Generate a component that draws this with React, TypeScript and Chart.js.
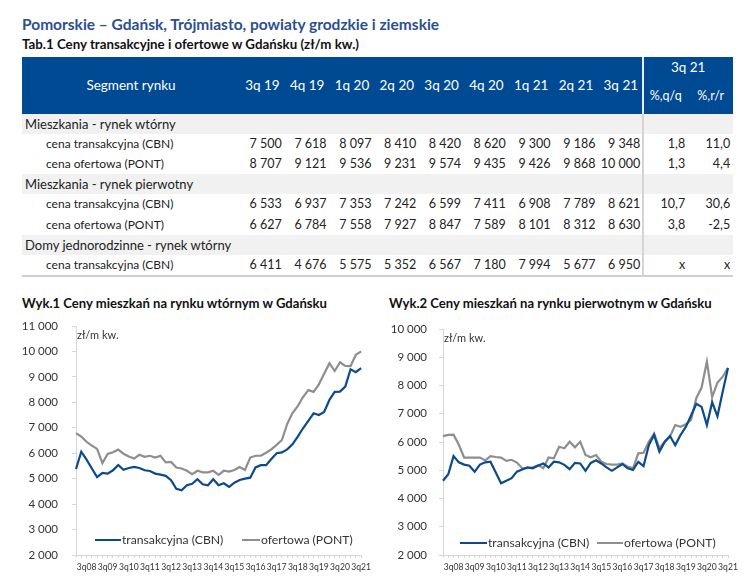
import React, { useEffect, useRef } from "react";
import { Chart, registerables } from "chart.js";
Chart.register(...registerables);

// ---------- DATA ----------
const quarterLabels = [
  "1q08", "2q08", "3q08", "4q08", "1q09", "2q09", "3q09", "4q09", "1q10", "2q10", "3q10", "4q10",
  "1q11", "2q11", "3q11", "4q11", "1q12", "2q12", "3q12", "4q12", "1q13", "2q13", "3q13", "4q13",
  "1q14", "2q14", "3q14", "4q14", "1q15", "2q15", "3q15", "4q15", "1q16", "2q16", "3q16", "4q16",
  "1q17", "2q17", "3q17", "4q17", "1q18", "2q18", "3q18", "4q18", "1q19", "2q19", "3q19", "4q19",
  "1q20", "2q20", "3q20", "4q20", "1q21", "2q21", "3q21",
];

const secondaryCBN = [
  5380, 6060, 5750, 5400, 5060, 5230, 5200, 5330, 5540, 5350, 5420, 5460, 5420, 5330, 5300, 5200,
  5160, 5110, 4940, 4600, 4540, 4740, 4800, 4980, 4780, 4740, 4980, 4740, 4820, 4680, 4840, 4950,
  5000, 5040, 5440, 5530, 5530, 5770, 6000, 6030, 6150, 6350, 6650, 6980, 7270, 7570, 7500, 7618,
  8097, 8410, 8420, 8620, 9300, 9186, 9348,
];
const secondaryPONT = [
  6790, 6650, 6450, 6300, 6170, 5610, 5970, 6040, 6140, 5980, 5870, 5790, 5940, 5860, 5900, 5830,
  5900, 5640, 5660, 5440, 5400, 5310, 5180, 5310, 5250, 5250, 5310, 5150, 5310, 5280, 5340, 5460,
  5340, 5830, 5900, 5900, 6020, 6150, 6330, 6520, 7150, 7580, 7850, 8210, 8480, 8410, 8707, 9121,
  9536, 9231, 9574, 9435, 9426, 9868, 10000,
];
const primaryCBN = [
  4630, 4860, 5500, 5280, 5200, 5160, 4950, 5200, 5280, 5300, 4920, 4540, 4630, 4720, 4950, 5030,
  5100, 5070, 5160, 5240, 5100, 5300, 5280, 5190, 5040, 5260, 5240, 4980, 5260, 5350, 5240, 5100,
  4980, 5100, 5220, 5070, 5010, 5300, 5150, 5890, 6250, 5660, 6000, 6210, 5890, 6250, 6533, 6937,
  7353, 7242, 6599, 7411, 6908, 7789, 8621,
];
const primaryPONT = [
  6210, 6250, 6260, 5900, 5450, 5450, 5450, 5450, 5350, 5500, 5470, 5450, 5330, 5370, 5270, 5070,
  5070, 5100, 5180, 5070, 5450, 5420, 5830, 5780, 6010, 5810, 6010, 5540, 5460, 5540, 5300, 5220,
  5200, 5200, 5240, 5130, 5070, 5600, 5620, 6010, 6300, 5780, 6010, 6190, 6600, 6540, 6627, 6784,
  7558, 7927, 8847, 7589, 8101, 8312, 8630,
];

const chart1Ticks = [2000, 3000, 4000, 5000, 6000, 7000, 8000, 9000, 10000, 11000];
const chart2Ticks = [2000, 3000, 4000, 5000, 6000, 7000, 8000, 9000, 10000];

const tableQuarters = ["3q 19", "4q 19", "1q 20", "2q 20", "3q 20", "4q 20", "1q 21", "2q 21", "3q 21"];
const tabWtornyCBN = [7500, 7618, 8097, 8410, 8420, 8620, 9300, 9186, 9348];
const tabWtornyPONT = [8707, 9121, 9536, 9231, 9574, 9435, 9426, 9868, 10000];
const tabPierwotnyCBN = [6533, 6937, 7353, 7242, 6599, 7411, 6908, 7789, 8621];
const tabPierwotnyPONT = [6627, 6784, 7558, 7927, 8847, 7589, 8101, 8312, 8630];
const tabDomyCBN = [6411, 4676, 5575, 5352, 6567, 7180, 7994, 5677, 6950];
const changeQQ = ["1,8", "1,3", "10,7", "3,8", "x"];
const changeRR = ["11,0", "4,4", "30,6", "-2,5", "x"];

// ---------- STYLE ----------
const BLUE = "#0b4a8c";
const GRAY = "#8e8e8e";
const HEADER_BLUE = "#004a93";
const FONT = "Lato, 'Noto Sans', sans-serif";

const fmt = (n: number) => String(Math.round(n)).replace(/\B(?=(\d{3})+(?!\d))/g, " ");

type ChartProps = {
  left: number; top: number; width: number; height: number;
  ticks: number[]; axisW: number; labelRight: number; padTop: number; padRight: number;
  cbn: number[]; pont: number[];
};

function LineChart(p: ChartProps) {
  const ref = useRef<HTMLCanvasElement | null>(null);
  useEffect(() => {
    if (!ref.current) return;
    const gap = p.axisW - p.labelRight; // distance from axis line to label edge
    const tickPad = 3;
    const tl = gap - tickPad; // invisible part + 4px visible tick mark
    const chart = new Chart(ref.current, {
      type: "line",
      data: {
        labels: quarterLabels,
        datasets: [
          { label: "transakcyjna (CBN)", data: p.cbn, borderColor: BLUE, borderWidth: 2.2, pointRadius: 0, tension: 0, fill: false },
          { label: "ofertowa (PONT)", data: p.pont, borderColor: GRAY, borderWidth: 2.2, pointRadius: 0, tension: 0, fill: false },
        ],
      },
      options: {
        responsive: false,
        animation: false,
        layout: { padding: { left: 0, right: p.padRight, top: p.padTop, bottom: 4 } },
        plugins: { legend: { display: false }, tooltip: { enabled: false } },
        scales: {
          x: {
            type: "category",
            offset: false,
            grid: { drawOnChartArea: false, drawTicks: true, tickLength: 3, color: "#d6d6d6" },
            border: { color: "#d6d6d6" },
            ticks: {
              autoSkip: false, maxRotation: 0, minRotation: 0, padding: 4,
              color: "#333",
              font: { family: FONT, size: 8.6 },
              callback: (_v: any, i: number) => (quarterLabels[i].startsWith("3q") ? quarterLabels[i] : ""),
            },
            afterFit: (s: any) => { s.height = 28; },
          },
          y: {
            min: p.ticks[0], max: p.ticks[p.ticks.length - 1],
            grid: {
              drawOnChartArea: false, drawTicks: true, tickLength: tl, color: "#d6d6d6",
              tickBorderDash: [0, tl - 4, 4, 200],
            },
            border: { color: "#d6d6d6" },
            ticks: {
              autoSkip: false,
              padding: tickPad, color: "#333",
              font: { family: FONT, size: 11.5 },
              callback: (v: any) => fmt(Number(v)),
            },
            afterBuildTicks: (s: any) => { s.ticks = p.ticks.map((v) => ({ value: v })); },
            afterFit: (s: any) => { s.width = p.axisW; },
          },
        },
      },
    });
    return () => chart.destroy();
  }, []);
  return (
    <canvas
      ref={ref}
      width={p.width}
      height={p.height}
      style={{ position: "absolute", left: p.left, top: p.top, width: p.width, height: p.height, zIndex: 1 }}
    />
  );
}

function Legend({ x1, t1, x2, t2, y }: { x1: number; t1: number; x2: number; t2: number; y: number }) {
  const txt: React.CSSProperties = { position: "absolute", top: y - 9, lineHeight: "18px", fontSize: 12.2, color: "#333", whiteSpace: "nowrap", zIndex: 2 };
  return (
    <>
      <div style={{ position: "absolute", left: x1, top: y - 1, width: t1 - x1 - 1, height: 2.4, background: BLUE, zIndex: 2 }} />
      <div style={{ ...txt, left: t1 }}>transakcyjna (CBN)</div>
      <div style={{ position: "absolute", left: x2, top: y - 1, width: t2 - x2 - 1, height: 2.4, background: GRAY, zIndex: 2 }} />
      <div style={{ ...txt, left: t2 }}>ofertowa (PONT)</div>
    </>
  );
}

export default function App() {
  const TL = 22, LABEL_W = 218, NUM_W = 44.8, PCT_W = 45;
  const divX = TL + LABEL_W + 9 * NUM_W;
  const headTop = 57, headBottom = 113.5, rowH = 20.2;

  const rows: { label: string; section?: boolean; values?: number[]; qq?: string; rr?: string }[] = [
    { label: "Mieszkania - rynek wtórny", section: true },
    { label: "cena transakcyjna (CBN)", values: tabWtornyCBN, qq: changeQQ[0], rr: changeRR[0] },
    { label: "cena ofertowa (PONT)", values: tabWtornyPONT, qq: changeQQ[1], rr: changeRR[1] },
    { label: "Mieszkania - rynek pierwotny", section: true },
    { label: "cena transakcyjna (CBN)", values: tabPierwotnyCBN, qq: changeQQ[2], rr: changeRR[2] },
    { label: "cena ofertowa (PONT)", values: tabPierwotnyPONT, qq: changeQQ[3], rr: changeRR[3] },
    { label: "Domy jednorodzinne - rynek wtórny", section: true },
    { label: "cena transakcyjna (CBN)", values: tabDomyCBN, qq: changeQQ[4], rr: changeRR[4] },
  ];
  const bodyBottom = headBottom + rows.length * rowH;

  const abs = (s: React.CSSProperties): React.CSSProperties => ({ position: "absolute", whiteSpace: "nowrap", ...s });

  return (
    <div style={{ position: "fixed", left: 0, top: 0, width: 747, height: 587, background: "#fff", fontFamily: FONT, overflow: "hidden" }}>
      <div style={abs({ left: 22, top: 14, lineHeight: "20px", fontSize: 15.5, fontWeight: 700, color: "#2c4f8e" })}>
        Pomorskie – Gdańsk, Trójmiasto, powiaty grodzkie i ziemskie
      </div>
      <div style={abs({ left: 22, top: 35, lineHeight: "18px", fontSize: 13.3, fontWeight: 700, color: "#111" })}>
        Tab.1 Ceny transakcyjne i ofertowe w Gdańsku (zł/m kw.)
      </div>

      {/* table header */}
      <div style={abs({ left: TL, top: headTop, width: 711, height: headBottom - headTop, background: HEADER_BLUE })} />
      <div style={abs({ left: divX - 1, top: headTop, width: 2, height: headBottom - headTop, background: "#e8eef6" })} />
      <div style={abs({ left: TL, top: headTop, width: LABEL_W, lineHeight: `${headBottom - headTop}px`, textAlign: "center", color: "#fff", fontSize: 13.5 })}>
        Segment rynku
      </div>
      {tableQuarters.map((q, i) => (
        <div key={q + i} style={abs({ left: TL + LABEL_W + i * NUM_W, top: headTop, width: NUM_W, lineHeight: `${headBottom - headTop}px`, textAlign: "center", color: "#fff", fontSize: 13.5 })}>
          {q}
        </div>
      ))}
      <div style={abs({ left: divX, top: headTop + 1, width: 2 * PCT_W, lineHeight: "18px", textAlign: "center", color: "#fff", fontSize: 13.5 })}>
        3q 21
      </div>
      <div style={abs({ left: divX, top: headTop + 30, width: PCT_W, lineHeight: "18px", textAlign: "center", color: "#fff", fontSize: 12.5 })}>%,q/q</div>
      <div style={abs({ left: divX + PCT_W, top: headTop + 30, width: PCT_W, lineHeight: "18px", textAlign: "center", color: "#fff", fontSize: 12.5 })}>%,r/r</div>

      {/* table body */}
      {rows.map((r, ri) => {
        const top = headBottom + ri * rowH;
        return (
          <React.Fragment key={ri}>
            {r.section && <div style={abs({ left: TL, top, width: 711, height: rowH, background: "#f1f1f1" })} />}
            <div style={abs({ left: r.section ? 25 : 46, top, lineHeight: `${rowH}px`, fontSize: r.section ? 13 : 12, color: "#222" })}>{r.label}</div>
            {r.values && r.values.map((v, i) => (
              <div key={i} style={abs({ left: TL + LABEL_W + i * NUM_W, top, width: NUM_W - 3, lineHeight: `${rowH}px`, textAlign: "right", fontSize: 12.5, color: "#222" })}>
                {fmt(v)}
              </div>
            ))}
            {r.qq && <div style={abs({ left: divX, top, width: PCT_W - 3, lineHeight: `${rowH}px`, textAlign: "right", fontSize: 12.5, color: "#222" })}>{r.qq}</div>}
            {r.rr && <div style={abs({ left: divX + PCT_W, top, width: PCT_W - 3, lineHeight: `${rowH}px`, textAlign: "right", fontSize: 12.5, color: "#222" })}>{r.rr}</div>}
          </React.Fragment>
        );
      })}
      <div style={abs({ left: divX - 1, top: headBottom, width: 2, height: bodyBottom - headBottom, background: "#d4d4d4" })} />
      <div style={abs({ left: TL, top: bodyBottom, width: 711, height: 2, background: "#cfcfcf" })} />

      {/* chart titles */}
      <div style={abs({ left: 22, top: 294, lineHeight: "18px", fontSize: 13.1, fontWeight: 700, color: "#111" })}>
        Wyk.1 Ceny mieszkań na rynku wtórnym w Gdańsku
      </div>
      <div style={abs({ left: 389, top: 294, lineHeight: "18px", fontSize: 13.1, fontWeight: 700, color: "#111" })}>
        Wyk.2 Ceny mieszkań na rynku pierwotnym w Gdańsku
      </div>

      <LineChart left={0} top={310} width={375} height={277} ticks={chart1Ticks} axisW={76} labelRight={58} padTop={16} padRight={12} cbn={secondaryCBN} pont={secondaryPONT} />
      <LineChart left={375} top={310} width={372} height={277} ticks={chart2Ticks} axisW={68} labelRight={52} padTop={19} padRight={19} cbn={primaryCBN} pont={primaryPONT} />

      <div style={abs({ left: 77, top: 327, lineHeight: "16px", fontSize: 11, color: "#333", zIndex: 2 })}>zł/m kw.</div>
      <div style={abs({ left: 444, top: 330, lineHeight: "16px", fontSize: 11, color: "#333", zIndex: 2 })}>zł/m kw.</div>

      <Legend x1={95} t1={122} x2={242} t2={261} y={540} />
      <Legend x1={460} t1={488} x2={597} t2={624} y={543} />
    </div>
  );
}
